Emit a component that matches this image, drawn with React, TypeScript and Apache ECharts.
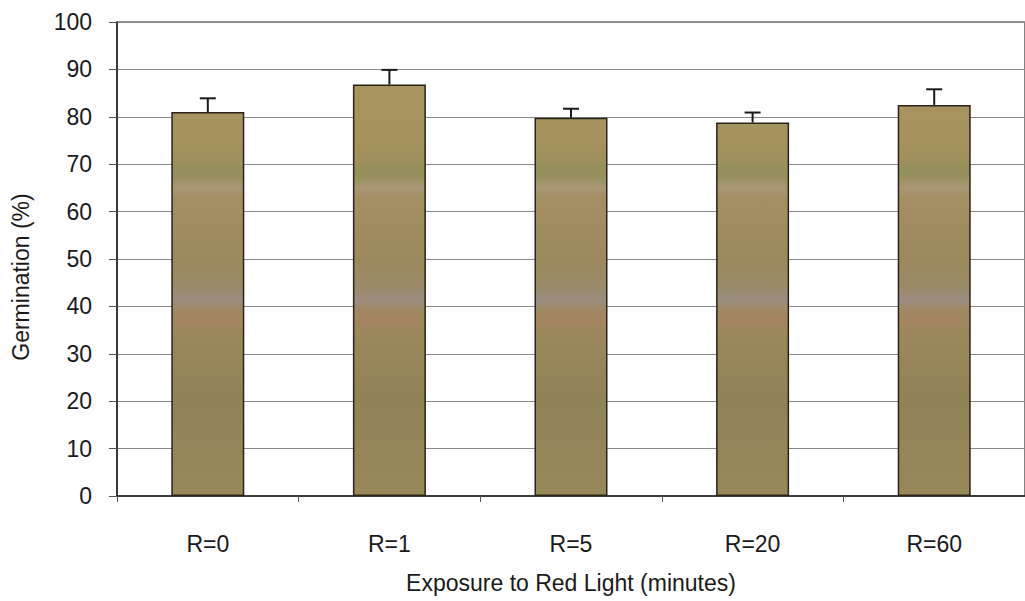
import React, { useEffect, useRef } from "react";
import * as echarts from "echarts";

const categories = ["R=0", "R=1", "R=5", "R=20", "R=60"];
const germination = [81, 86.8, 79.8, 78.8, 82.5];
const errorTop = [83.9, 89.9, 81.7, 80.9, 85.8];
const yTicks = { min: 0, max: 100, interval: 10 };

const FONT = "'Liberation Sans', Arial, sans-serif";

export default function App() {
  const ref = useRef<HTMLDivElement>(null);
  useEffect(() => {
    if (!ref.current) return;
    const chart = echarts.init(ref.current, undefined, { renderer: "svg" });
    const fill = {
      type: "linear",
      global: true,
      x: 0,
      y: 22,
      x2: 0,
      y2: 496,
      colorStops: [
        { offset: 0, color: "#a9965f" },
        { offset: 0.25, color: "#a6925e" },
        { offset: 0.29, color: "#9e905c" },
        { offset: 0.31, color: "#95905b" },
        { offset: 0.33, color: "#98915e" },
        { offset: 0.35, color: "#aa9776" },
        { offset: 0.37, color: "#a48f62" },
        { offset: 0.5, color: "#9c8a5c" },
        { offset: 0.56, color: "#9a8b6a" },
        { offset: 0.585, color: "#9c8d82" },
        { offset: 0.61, color: "#a08862" },
        { offset: 0.63, color: "#a4855f" },
        { offset: 0.66, color: "#9a885a" },
        { offset: 0.8, color: "#908356" },
        { offset: 1, color: "#978858" },
      ],
    };
    chart.setOption({
      animation: false,
      backgroundColor: "#ffffff",
      textStyle: { fontFamily: FONT },
      grid: {
        left: 117,
        top: 22,
        width: 915,
        bottom: 105,
        show: true,
        borderColor: "#333",
        borderWidth: 1.2,
        backgroundColor: "transparent",
      },
      graphic: [
        {
          type: "text",
          x: 21,
          y: 277,
          rotation: Math.PI / 2,
          style: {
            text: "Germination (%)",
            fontSize: 23,
            fontFamily: FONT,
            fill: "#1a1a1a",
            textAlign: "center",
            textVerticalAlign: "middle",
          },
        },
      ],
      xAxis: {
        type: "category",
        data: categories,
        boundaryGap: true,
        axisLine: { lineStyle: { color: "#222", width: 1.5 } },
        axisTick: { show: true, alignWithLabel: false, length: 6, lineStyle: { color: "#555" } },
        axisLabel: { fontSize: 23, color: "#1a1a1a", margin: 36, fontFamily: FONT },
        name: "Exposure to Red Light (minutes)",
        nameLocation: "middle",
        nameGap: 75,
        nameTextStyle: { fontSize: 23, color: "#1a1a1a", fontFamily: FONT },
      },
      yAxis: {
        type: "value",
        min: yTicks.min,
        max: yTicks.max,
        interval: yTicks.interval,
        axisLine: { show: true, lineStyle: { color: "#222", width: 1.5 } },
        axisTick: { show: true, length: 8, lineStyle: { color: "#555" } },
        axisLabel: { fontSize: 23, color: "#1a1a1a", margin: 25, fontFamily: FONT },
        splitLine: { show: true, lineStyle: { color: "#8a8a8a", width: 1 } },
      },
      series: [
        {
          type: "bar",
          data: germination,
          barWidth: 73,
          itemStyle: { color: fill, borderColor: "#2b2418", borderWidth: 1.5 },
          z: 2,
        },
        {
          type: "custom",
          z: 3,
          data: categories.map((_, i) => [i, germination[i], errorTop[i]]),
          renderItem: (params: any, api: any) => {
            const i = api.value(0);
            const lo = api.coord([i, api.value(1)]);
            const hi = api.coord([i, api.value(2)]);
            const half = 8;
            const style = { stroke: "#1a1a1a", lineWidth: 2 };
            return {
              type: "group",
              children: [
                { type: "line", shape: { x1: lo[0], y1: lo[1], x2: hi[0], y2: hi[1] }, style },
                { type: "line", shape: { x1: hi[0] - half, y1: hi[1], x2: hi[0] + half, y2: hi[1] }, style },
              ],
            };
          },
        },
      ],
    });
    return () => chart.dispose();
  }, []);
  return (
    <div
      ref={ref}
      style={{ position: "fixed", left: 0, top: 0, width: 1025, height: 601, background: "#fff" }}
    />
  );
}
